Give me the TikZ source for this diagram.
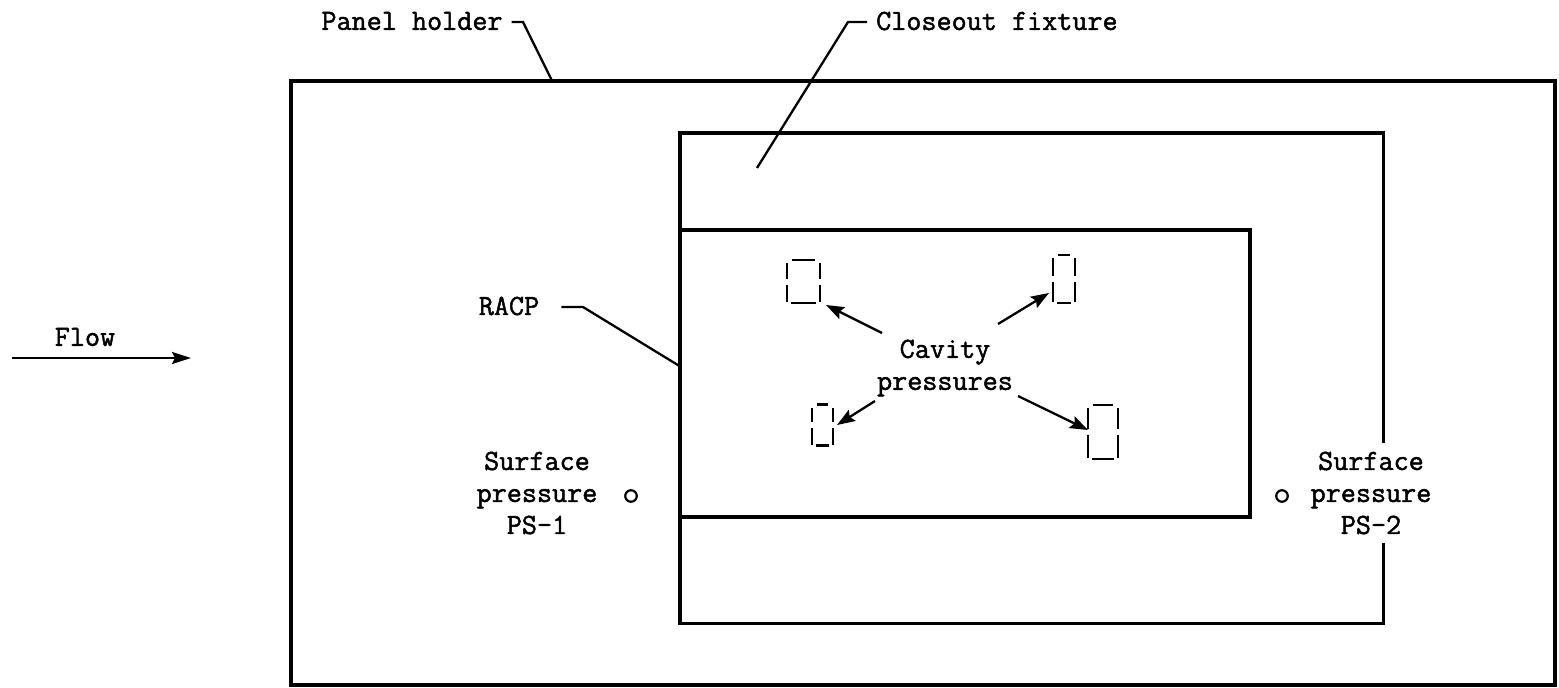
\documentclass[tikz,border=0pt]{standalone}
\usepackage{fontspec}
\newfontfamily\tw[RawFeature={embolden=1.6}]{Latin Modern Mono}
\usetikzlibrary{arrows.meta,calc}
\begin{document}
\begin{tikzpicture}[x=1pt,y=-1pt,
  lbl/.style={font=\tw\fontsize{29.3}{32}\selectfont, inner sep=0pt, align=center},
  frame/.style={line width=3.4pt},
  leader/.style={line width=2.3pt},
  arr/.style={line width=2.3pt, -{Stealth[length=18pt,width=13pt,inset=3pt]}},
  sens/.style={line width=2.3pt},
  sensbox/.style={inner sep=0pt, outer sep=0pt},
  tap/.style={circle, draw, line width=2.2pt, minimum size=11.5pt, inner sep=0pt}]
\useasboundingbox (0,0) rectangle (1559,688);

% frames
\node[draw, frame, inner sep=0pt, minimum width=1264, minimum height=604] (holder) at (923,383) {};
\node[inner sep=0pt, minimum width=703, minimum height=490] (closeout) at (1031.5,378) {};
\node[draw, frame, inner sep=0pt, minimum width=570, minimum height=287] (racp) at (965,373.5) {};

% labels
\node[lbl] (ph) at (412,21) {Panel holder};
\node[lbl, anchor=west] (cf) at (876,21) {Closeout fixture};
\node[lbl] (rl) at (509,306) {RACP};
\node[lbl] (flow) at (85,337) {Flow};
\node[lbl] (cav) at (945,368) {Cavity\\pressures};
\node[lbl] (ps1) at (537,493) {Surface\\pressure\\PS-1};
\node[lbl] (ps2) at (1371,493) {Surface\\pressure\\PS-2};

% closeout fixture outline with gap for PS-2 label
\draw[frame] ($(closeout.east)+(0,65)$) -- (closeout.north east) -- (closeout.north west)
  -- (closeout.south west) -- (closeout.south east) -- ($(closeout.south east)+(0,-80)$);

% surface pressure taps
\node[tap] (t1) at (631,496) {};
\node[tap] (t2) at (1282,496) {};

% leaders
\coordinate (phk) at (523,22);
\draw[leader] ($(ph.east)+(9,1)$) -- (phk) -- ($(holder.north west)+(262,0)$);
\coordinate (cfk) at (848,22);
\coordinate (cfend) at (757,168);
\draw[leader] ($(cf.west)+(-9,1)$) -- (cfk) -- (cfend);
\coordinate (rk) at (583,307);
\draw[leader] ($(rl.east)+(22,1)$) -- (rk) -- ($(racp.north west)+(0,137)$);

% flow arrow
\coordinate (f0) at (12,358);
\coordinate (f1) at (191,358);
\draw[line width=2.3pt, -{Stealth[length=19pt,width=12pt,inset=3pt]}] (f0) -- (f1);

% cavity pressure sensors
\node[sensbox, minimum width=33, minimum height=43] (s1) at (803.5,281.5) {};
\node[sensbox, minimum width=22, minimum height=48] (s2) at (1064,279) {};
\node[sensbox, minimum width=21, minimum height=41] (s3) at (822.5,425) {};
\node[sensbox, minimum width=30, minimum height=54] (s4) at (1103,432) {};
\foreach \s in {s1,s2,s3,s4}{
  \draw[sens] ([yshift=-3pt]\s.north west) -- ([yshift=3pt]\s.west);
  \draw[sens] ([yshift=-3pt]\s.west) -- ([yshift=1pt]\s.south west);
  \draw[sens] ([yshift=-3pt]\s.north east) -- ([yshift=3pt]\s.east);
  \draw[sens] ([yshift=-3pt]\s.east) -- ([yshift=1pt]\s.south east);
  \draw[sens] ([xshift=5pt]\s.north west) -- ([xshift=-5pt]\s.north east);
  \draw[sens] ([xshift=4pt]\s.south west) -- ([xshift=-4pt]\s.south east);
}

% cavity pressure arrows
\coordinate (a1) at (882,333);
\coordinate (a2) at (998,324);
\coordinate (a3) at (875,401);
\coordinate (a4) at (1018,396);
\draw[arr] (a1) -- ($(s1.south east)+(6,2)$);
\draw[arr] (a2) -- ($(s2.south west)+(-4,-10)$);
\draw[arr] (a3) -- ($(s3.east)+(4,0)$);
\draw[arr] (a4) -- ($(s4.west)+(0,-2)$);
\end{tikzpicture}
\end{document}
